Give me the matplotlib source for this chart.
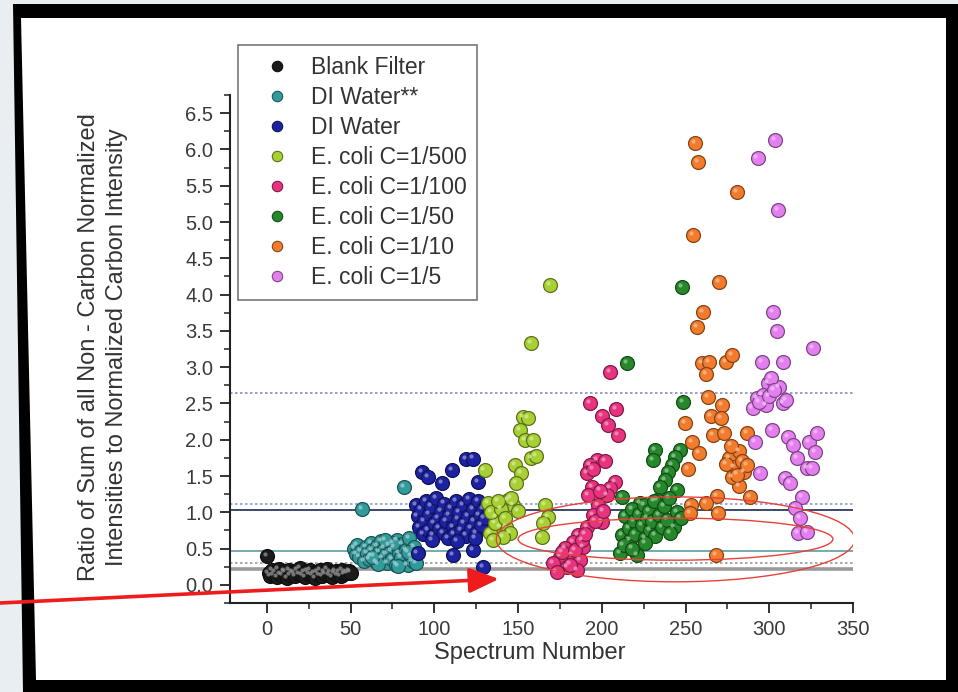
import matplotlib
matplotlib.use("Agg")
import matplotlib.pyplot as plt
from matplotlib.lines import Line2D
from matplotlib.patches import Ellipse, Polygon, FancyArrowPatch
from matplotlib.transforms import offset_copy
from matplotlib.ticker import MultipleLocator
import matplotlib.colors as mcolors

plt.rcParams["font.family"] = ["Liberation Sans", "DejaVu Sans"]

# ---- data ----
blank_x = [0, 1, 2, 3, 4, 5, 6, 7, 8, 9, 10, 11, 12, 13, 14, 15, 16, 17, 18, 19, 20,
           21, 22, 23, 24, 25, 26, 27, 28, 29, 30, 31, 32, 33, 34, 35, 36, 37, 38, 39,
           40, 41, 42, 43, 44, 45, 46, 47, 48, 49, 50]
blank_y = [0.40, 0.16, 0.12, 0.20, 0.14, 0.18, 0.11, 0.22, 0.15, 0.13, 0.19, 0.17, 0.10,
           0.21, 0.14, 0.18, 0.16, 0.12, 0.20, 0.15, 0.23, 0.13, 0.17, 0.11, 0.19, 0.15,
           0.21, 0.13, 0.16, 0.10, 0.18, 0.14, 0.20, 0.12, 0.17, 0.15, 0.22, 0.13, 0.18,
           0.11, 0.16, 0.19, 0.14, 0.17, 0.12, 0.20, 0.15, 0.18, 0.16, 0.19, 0.17]

diw2_x = [52, 53, 54, 55, 56, 57, 58, 59, 60, 61, 62, 63, 64, 65, 66, 67, 68, 69, 70, 71,
          72, 73, 74, 75, 76, 77, 78, 79, 80, 81, 82, 83, 84, 85, 86, 87, 88, 89, 75.5,
          70.5, 84.5, 78.5, 66.5, 62.5]
diw2_y = [0.50, 0.42, 0.55, 0.38, 0.47, 1.05, 0.33, 0.52, 0.44, 0.36, 0.58, 0.48, 0.40,
          0.32, 0.54, 0.45, 0.60, 0.37, 0.50, 0.42, 0.30, 0.55, 0.46, 0.35, 0.52, 0.28,
          0.62, 0.44, 0.38, 0.56, 1.35, 0.48, 0.27, 0.65, 0.40, 0.33, 0.52, 0.30, 0.58,
          0.62, 0.45, 0.26, 0.29, 0.39]

diw_x = [92.5, 96, 104.5, 110.5, 119, 123, 126, 90, 111, 123, 129,
         89, 90, 91, 92, 93, 94, 95, 96, 97, 98, 99, 100, 101, 102, 103, 104, 105, 106,
         107, 108, 109, 110, 111, 112, 113, 114, 115, 116, 117, 118, 119, 120, 121, 122,
         123, 124, 125, 126, 127, 128, 129, 130, 131, 98.5, 113.5, 124.5]
diw_y = [1.56, 1.49, 1.40, 1.58, 1.73, 1.74, 1.42, 0.44, 0.41, 0.48, 0.25,
         1.10, 0.95, 0.80, 1.05, 0.70, 0.88, 1.15, 0.75, 0.98, 1.08, 0.68, 0.85, 1.20,
         0.92, 0.78, 1.02, 0.72, 1.12, 0.88, 0.65, 0.96, 1.06, 0.80, 0.70, 1.16, 0.90,
         1.00, 0.76, 1.10, 0.85, 0.68, 0.95, 1.18, 0.78, 1.05, 0.88, 0.72, 1.15, 0.96,
         0.82, 1.04, 0.92, 1.10, 0.62, 0.60, 0.64]

c500_x = [169, 158, 153, 156, 151, 154, 159, 158, 161, 148, 152, 149, 130, 132, 144, 147,
          166, 168, 165, 164, 137, 139, 133, 143, 145, 141, 136, 146, 134, 140, 135, 142,
          138, 150]
c500_y = [4.13, 3.33, 2.31, 2.30, 2.13, 2.00, 2.00, 1.75, 1.77, 1.65, 1.54, 1.40, 1.58,
          1.13, 1.17, 1.10, 1.10, 0.94, 0.85, 0.66, 0.94, 0.80, 0.72, 0.80, 0.72, 0.66,
          0.85, 1.20, 1.00, 1.05, 0.62, 0.92, 1.15, 1.02]

c100_x = [205, 193, 200, 204, 208.5, 209.5, 197, 202, 193, 191, 195, 194, 208, 205, 192,
          203, 198, 195, 200, 191, 186, 183, 189, 178, 182, 175, 187, 171, 179, 173, 185,
          176, 181, 184, 188, 190, 196, 199, 201]
c100_y = [2.93, 2.50, 2.32, 2.20, 2.42, 2.07, 1.72, 1.70, 1.65, 1.54, 1.60, 1.35, 1.42,
          1.34, 1.24, 1.24, 1.10, 0.96, 0.87, 0.80, 0.69, 0.59, 0.52, 0.51, 0.41, 0.39,
          0.34, 0.30, 0.25, 0.18, 0.21, 0.45, 0.28, 0.48, 0.62, 0.70, 0.88, 1.30, 1.02]

c50_x = [215, 248.5, 248, 232, 230.5, 246.5, 244, 242, 239.5, 238, 235, 245, 212, 223, 233,
         211, 221, 212, 217, 243, 214, 216, 218, 219, 220, 222, 224, 225, 226, 227, 228,
         229, 230, 231, 232, 234, 236, 237, 239, 240, 241, 245, 247, 213, 218, 226]
c50_y = [3.06, 2.52, 4.10, 1.86, 1.72, 1.86, 1.76, 1.65, 1.56, 1.45, 1.35, 1.31, 1.21,
         1.13, 1.17, 0.44, 0.41, 0.69, 0.62, 0.80, 0.95, 0.78, 1.05, 0.88, 0.70, 0.98,
         0.82, 1.10, 0.65, 0.92, 1.02, 0.75, 0.88, 1.15, 0.68, 0.96, 0.80, 1.08, 0.90,
         1.20, 0.72, 1.00, 0.92, 0.55, 0.50, 0.58]

c10_x = [255.7, 257.5, 280.8, 254.5, 270, 260.5, 257, 260, 264, 262, 274, 277.8, 263.5,
         272, 265, 271, 266.5, 273, 287, 249.7, 254, 258, 251.5, 282, 269, 262, 253,
         269.5, 288.5, 268, 252.6, 276, 279, 282, 285, 278, 284, 281, 287, 277, 274]
c10_y = [6.09, 5.83, 5.41, 4.82, 4.17, 3.76, 3.55, 3.06, 3.07, 2.90, 3.07, 3.17, 2.59,
         2.48, 2.33, 2.30, 2.07, 2.09, 2.09, 2.23, 1.97, 1.82, 1.60, 1.36, 1.23, 1.13,
         1.10, 0.99, 1.21, 0.41, 0.99, 1.75, 1.62, 1.85, 1.55, 1.48, 1.70, 1.52, 1.65,
         1.92, 1.66]

c5_x = [303.5, 293, 305, 302, 304.5, 326, 295.5, 308, 299, 306, 292.5, 290, 308, 301.5,
        291.5, 311, 314, 316.5, 324, 328.5, 327.5, 322.5, 325.5, 294.5, 309.5, 312.5,
        319.5, 315.5, 318.5, 317, 322.5, 296, 298, 301, 294, 300, 303, 310]
c5_y = [6.13, 5.88, 5.17, 3.76, 3.50, 3.26, 3.07, 3.07, 2.78, 2.73, 2.58, 2.44, 2.50,
        2.13, 1.97, 2.04, 1.93, 1.75, 1.97, 2.09, 1.83, 1.61, 1.61, 1.54, 1.47, 1.40,
        1.21, 1.06, 0.92, 0.72, 0.73, 2.62, 2.48, 2.85, 2.52, 2.60, 2.68, 2.55]

labels = ["Blank Filter", "DI Water**", "DI Water", "E. coli C=1/500", "E. coli C=1/100",
          "E. coli C=1/50", "E. coli C=1/10", "E. coli C=1/5"]
colors = ["#1b1b1b", "#339a9c", "#1d22a0", "#a8d032", "#e8337f", "#25882a", "#f27b2c",
          "#e47ff0"]
series = [(blank_x, blank_y), (diw2_x, diw2_y), (diw_x, diw_y), (c500_x, c500_y),
          (c100_x, c100_y), (c50_x, c50_y), (c10_x, c10_y), (c5_x, c5_y)]

# reference lines: (level, colour, style, width)
hlines = [(0.22, "#9a9a9a", "-", 2.6), (0.30, "#9a9a9a", (0, (1.5, 1.5)), 1.2),
          (0.47, "#6aa5a8", "-", 1.3), (1.03, "#3a4a6a", "-", 1.4),
          (1.12, "#8a9ad8", (0, (1.5, 1.5)), 1.2), (2.65, "#8a8ac8", (0, (1.5, 1.5)), 1.2)]

W, H = 958, 692
fig = plt.figure(figsize=(W / 100, H / 100), dpi=100)
fig.patch.set_facecolor("#e8eef2")


def P(px, py):
    return (px / W, 1 - py / H)


fig.add_artist(Polygon([P(13, 4), P(958, 4), P(958, 692), P(23, 692)], closed=True,
                       facecolor="black", edgecolor="none", transform=fig.transFigure,
                       zorder=-10))
fig.add_artist(Polygon([P(21, 18), P(946, 18), P(946, 680), P(36, 680)], closed=True,
                       facecolor="white", edgecolor="none", transform=fig.transFigure,
                       zorder=-9))

ax = fig.add_axes([230 / W, 1 - 603 / H, 623 / W, 508 / H])
ax.set_facecolor("white")
ax.set_xlim(-22, 350)
ax.set_ylim(-0.25, 6.75)

for lev, col, ls, lw in hlines:
    ax.axhline(lev, color=col, linestyle=ls, linewidth=lw, zorder=1)


def darker(c, f=0.55):
    r, g, b = mcolors.to_rgb(c)
    return (r * f, g * f, b * f)


def lighter(c, f=0.55):
    r, g, b = mcolors.to_rgb(c)
    return (r + (1 - r) * f, g + (1 - g) * f, b + (1 - b) * f)


hi = offset_copy(ax.transData, fig=fig, x=-1.5, y=1.5, units="points")
for i, ((xs, ys), col) in enumerate(zip(series, colors)):
    z = 3 + i * 0.1
    ax.scatter(xs, ys, s=100, color=col, edgecolors=darker(col), linewidths=0.9, zorder=z)
    ax.scatter(xs, ys, s=9, color=lighter(col, 0.5), linewidths=0, alpha=0.8,
               transform=hi, zorder=z + 0.05)

# red ellipses
ax.add_patch(Ellipse((244, 0.627), 214, 1.17, facecolor="none", edgecolor="#e8413a",
                     linewidth=1.0, zorder=6))
ax.add_patch(Ellipse((244, 0.63), 188, 0.58, facecolor="none", edgecolor="#e8413a",
                     linewidth=1.0, zorder=6))

# axes styling
for s in ["top", "right"]:
    ax.spines[s].set_visible(False)
for s in ["left", "bottom"]:
    ax.spines[s].set_linewidth(1.5)
    ax.spines[s].set_color("#222222")
ax.xaxis.set_minor_locator(MultipleLocator(25))
ax.yaxis.set_minor_locator(MultipleLocator(0.25))
ax.set_xticks(range(0, 351, 50))
ax.set_yticks([v / 10 for v in range(0, 66, 5)])
ax.set_yticklabels([f"{v / 10:.1f}" for v in range(0, 66, 5)])
ax.tick_params(which="major", direction="out", length=7, width=1.3, colors="#222222",
               labelcolor="#3a3a3a", labelsize=14.5, pad=5)
ax.tick_params(which="minor", direction="out", length=4, width=1.1, colors="#222222")

fig.text(530 / W, 1 - 653 / H, "Spectrum Number", ha="center", va="center",
         fontsize=17, color="#333333")
fig.text(103 / W, 1 - 347 / H,
         "Ratio of Sum of all Non - Carbon Normalized\nIntensities to Normalized Carbon Intensity",
         ha="center", va="center", rotation=90, fontsize=17, color="#333333",
         linespacing=1.4, multialignment="center")

handles = [Line2D([], [], linestyle="none", marker="o", markersize=7.5, color=c,
                  markeredgecolor=darker(c), markeredgewidth=0.8) for c in colors]
leg = ax.legend(handles, labels, loc="upper left", bbox_to_anchor=(0.013, 1.098),
                frameon=True, fancybox=False, fontsize=16.5, borderaxespad=0,
                borderpad=0.45, labelspacing=0.31, handlelength=2.5, handletextpad=0.25,
                edgecolor="#777777", facecolor="white", framealpha=1)
leg.get_frame().set_linewidth(1.2)
for t in leg.get_texts():
    t.set_color("#333333")
leg.set_zorder(10)

# red arrow from the slide into the plot
fig.add_artist(FancyArrowPatch(P(0, 603), P(499, 579), transform=fig.transFigure,
                               arrowstyle="-|>,head_length=0.9,head_width=0.38",
                               mutation_scale=20, color="#ee1c1c", linewidth=2.6,
                               shrinkA=0, shrinkB=0, zorder=20))

fig.savefig("out.png", dpi=100, facecolor=fig.get_facecolor())
